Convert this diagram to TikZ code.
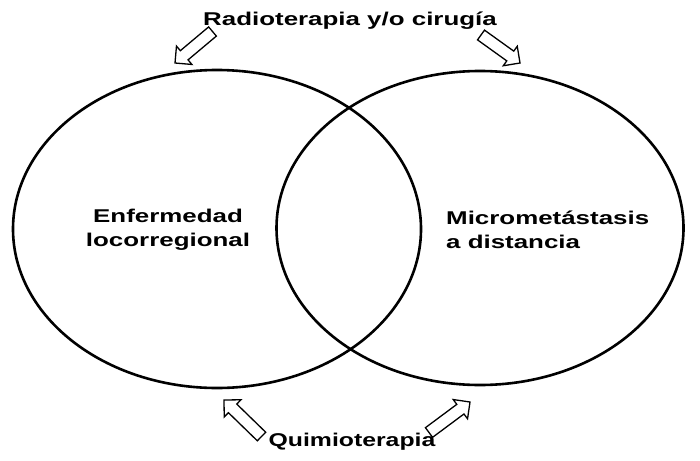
\documentclass[tikz,border=0pt]{standalone}
\usepackage{fontspec}
\setmainfont{Liberation Sans}
\newfontfamily\widefont[FakeStretch=1.4]{Liberation Sans}
\newfontfamily\widerfont[FakeStretch=1.34]{Liberation Sans}
\usetikzlibrary{calc}
\tikzset{
  circ/.style={line width=2.6pt},
  blockarrow/.style={draw=black,fill=white,line width=1.3pt,line join=miter},
  lbl/.style={font=\widefont\fontsize{18.5}{24}\selectfont\bfseries,inner sep=0pt}
}
\newcommand{\bigarrow}[2]{%
  \coordinate (ah) at ($(#2)!12pt!(#1)$);
  \draw[blockarrow] ($(#1)!6pt!90:(#2)$) -- ($(ah)!6pt!90:(#2)$) -- ($(ah)!12pt!90:(#2)$) -- (#2)
    -- ($(ah)!12pt!-90:(#2)$) -- ($(ah)!6pt!-90:(#2)$) -- ($(#1)!6pt!-90:(#2)$) -- cycle;}
\begin{document}
\begin{tikzpicture}[x=1pt,y=-1pt]
\useasboundingbox[fill=white] (0,0) rectangle (700,460);
\draw[circ] (217,229) ellipse [x radius=204, y radius=159];
\draw[circ] (480,228) ellipse [x radius=203.5, y radius=157];
\node[lbl] (top) at (350,20.5) {Radioterapia y/o cirugía};
\node[lbl,font=\widerfont\fontsize{18.5}{24}\selectfont\bfseries] (bot) at (352,442) {Quimioterapia};
\node[lbl,align=center] (left) at (168,230) {Enfermedad\\locorregional};
\node[lbl,align=left,anchor=west] (right) at (446,230) {Micrometástasis\\a distancia};
\coordinate (tlT) at (212.5,31.5); \coordinate (tlP) at (175,63);
\coordinate (trT) at (481,35);   \coordinate (trP) at (520,63);
\coordinate (blT) at (261.5,436.5); \coordinate (blP) at (224,400);
\coordinate (brT) at (429,432.5); \coordinate (brP) at (470,402);
\bigarrow{tlT}{tlP}
\bigarrow{trT}{trP}
\bigarrow{blT}{blP}
\bigarrow{brT}{brP}
\end{tikzpicture}
\end{document}
